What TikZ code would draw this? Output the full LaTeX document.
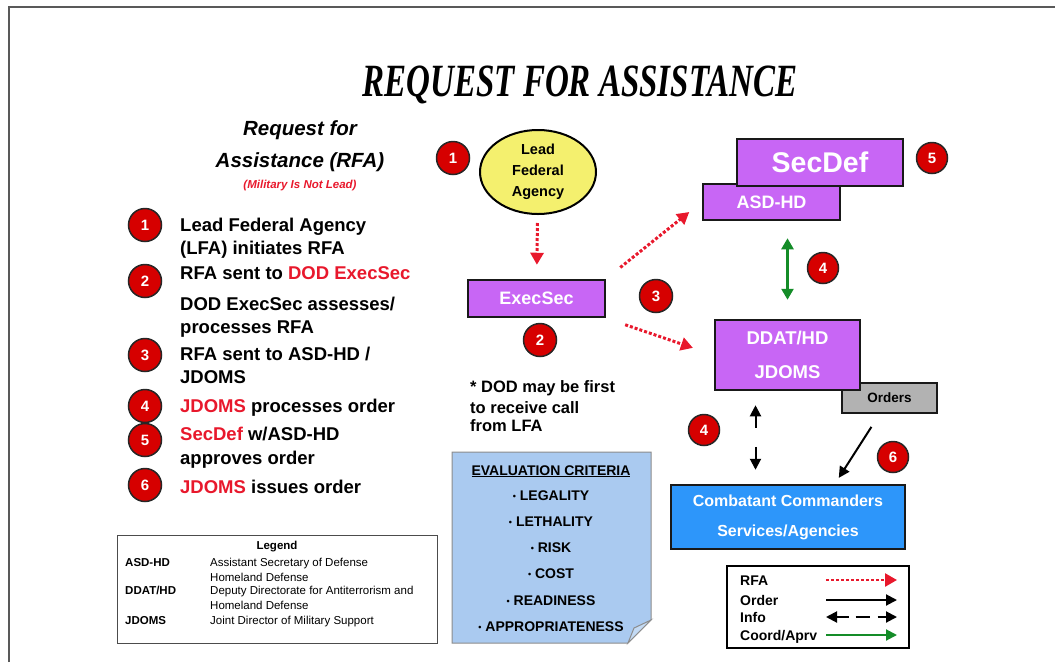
\documentclass[tikz,border=0pt]{standalone}
\usepackage{fontspec}
\usepackage{graphicx}
\setmainfont{Liberation Sans}
\newfontfamily\titlefont{Liberation Serif}
\usetikzlibrary{arrows.meta,shapes.geometric}

\definecolor{rfared}{RGB}{232,24,44}
\definecolor{dotred}{RGB}{214,0,0}
\definecolor{boxpurple}{RGB}{200,102,245}
\definecolor{lfayellow}{RGB}{244,240,110}
\definecolor{cmdblue}{RGB}{45,150,250}
\definecolor{noteblue}{RGB}{170,202,240}
\definecolor{ordergray}{RGB}{178,178,178}
\definecolor{coordgreen}{RGB}{20,140,40}
\newcommand{\fs}[2]{\fontsize{#1}{#2}\selectfont}
\newcommand{\crit}{\raisebox{1pt}{\fs{9}{10}\textbullet}\ }

\tikzset{
  numdot/.style={circle, fill=dotred, draw=black!85, line width=1.5pt, text=white,
    font=\bfseries\fs{15}{17}, minimum size=33pt, inner sep=0pt},
  listtxt/.style={anchor=base west, inner sep=0pt, font=\bfseries\fs{18.5}{20}},
  keytxt/.style={anchor=base west, inner sep=0pt, font=\fs{11.5}{13}},
  critxt/.style={anchor=base, inner sep=0pt, font=\bfseries\fs{14}{16}},
  agencybox/.style={draw=black!90, line width=2.5pt, fill=boxpurple, text=white,
    inner sep=0pt, align=center},
  arrowkey/.style={anchor=base west, inner sep=0pt, font=\bfseries\fs{14}{16}},
  rfa/.style={rfared, line width=3pt, dotted, -{Triangle[length=12pt,width=13pt]}},
  order/.style={black, line width=2pt, -{Triangle[length=11pt,width=11pt]}},
  info/.style={black, line width=2pt, dash pattern=on 12pt off 19pt,
    {Triangle[length=11pt,width=11pt]}-{Triangle[length=11pt,width=11pt]}},
  coord/.style={coordgreen, line width=2.5pt,
    {Triangle[length=11pt,width=12pt]}-{Triangle[length=11pt,width=12pt]}}
}

\begin{document}
\begin{tikzpicture}[x=1pt,y=-1pt]
  \useasboundingbox (0,0) rectangle (1055,662);
  %%%%% FRAME AND TITLE %%%%%
  \draw[black!65, line width=1.8pt] (9,662) -- (9,7) -- (1055,7);
  \node[font=\titlefont\bfseries\itshape\fs{33}{36}] (title) at (580,85)
    {\scalebox{1}[1.4]{REQUEST FOR ASSISTANCE}};

  %%%%% LEFT COLUMN %%%%%
  \node[font=\bfseries\itshape\fs{20.5}{22}] (head1) at (300,130) {Request for};
  \node[font=\bfseries\itshape\fs{20.5}{22}] (head2) at (300,162) {Assistance (RFA)};
  \node[font=\bfseries\itshape\fs{11.5}{13}, text=rfared] (head3) at (300,186) {(Military Is Not Lead)};

  \node[numdot] (s1) at (145,225) {1};
  \node[numdot] (s2) at (145,281) {2};
  \node[numdot] (s3) at (145,355) {3};
  \node[numdot] (s4) at (145,406) {4};
  \node[numdot] (s5) at (145,440) {5};
  \node[numdot] (s6) at (145,485) {6};

  \node[listtxt] (l1a) at (180,231.5) {Lead Federal Agency};
  \node[listtxt] (l1b) at (180,254.5) {(LFA) initiates RFA};
  \node[listtxt] (l2a) at (180,279.5) {RFA sent to \textcolor{rfared}{DOD ExecSec}};
  \node[listtxt] (l2b) at (180,310.5) {DOD ExecSec assesses/};
  \node[listtxt] (l2c) at (180,333.5) {processes RFA};
  \node[listtxt] (l3a) at (180,360.5) {RFA sent to ASD-HD /};
  \node[listtxt] (l3b) at (180,383.5) {JDOMS};
  \node[listtxt] (l4a) at (180,412.5) {\textcolor{rfared}{JDOMS} processes order};
  \node[listtxt] (l5a) at (180,440.5) {\textcolor{rfared}{SecDef} w/ASD-HD};
  \node[listtxt] (l5b) at (180,464.5) {approves order};
  \node[listtxt] (l6a) at (180,493.5) {\textcolor{rfared}{JDOMS} issues order};

  % legend of abbreviations
  \draw[black!70, line width=1pt] (117,535) rectangle (437,643);
  \node[font=\bfseries\fs{11.5}{13}] (legtitle) at (277,547) {Legend};
  \node[keytxt, font=\bfseries\fs{11.5}{13}] (k1) at (125,566) {ASD-HD};
  \node[keytxt] (d1a) at (210,566) {Assistant Secretary of Defense};
  \node[keytxt] (d1b) at (210,581) {Homeland Defense};
  \node[keytxt, font=\bfseries\fs{11.5}{13}] (k2) at (125,594) {DDAT/HD};
  \node[keytxt] (d2a) at (210,594) {Deputy Directorate for Antiterrorism and};
  \node[keytxt] (d2b) at (210,609) {Homeland Defense};
  \node[keytxt, font=\bfseries\fs{11.5}{13}] (k3) at (125,624) {JDOMS};
  \node[keytxt] (d3a) at (210,624) {Joint Director of Military Support};

  %%%%% MIDDLE %%%%%
  \node[numdot] (n1) at (453,158) {1};
  \node[ellipse, draw=black, line width=2pt, fill=lfayellow, minimum width=116pt,
    minimum height=84pt, inner sep=0pt, align=center, font=\bfseries\fs{14.5}{21}]
    (lfa) at (538,172) {Lead\\Federal\\Agency};
  \node[agencybox, minimum width=137pt, minimum height=37pt, font=\bfseries\fs{18}{20}]
    (execsec) at (536.5,298.5) {ExecSec};
  \node[numdot] (n2) at (540,340) {2};
  \node[numdot] (n3) at (656,296) {3};

  \node[anchor=base west, inner sep=0pt, font=\bfseries\fs{16.5}{18}] (note1) at (470,392) {* DOD may be first};
  \node[anchor=base west, inner sep=0pt, font=\bfseries\fs{16.5}{18}] (note2) at (470,413) {to receive call};
  \node[anchor=base west, inner sep=0pt, font=\bfseries\fs{16.5}{18}] (note3) at (470,431) {from LFA};

  % evaluation criteria note
  \draw[black!45, line width=1pt, fill=noteblue] (452,452) -- (651,452) -- (651,620)
    -- (628,643) -- (452,643) -- cycle;
  \draw[black!45, line width=1pt, fill=noteblue!70!white] (651,620) -- (628,643)
    -- (634,628) -- cycle;
  \node[critxt] (crit0) at (551,475) {\underline{EVALUATION CRITERIA}};
  \node[critxt] (crit1) at (551,500) {\crit LEGALITY};
  \node[critxt] (crit2) at (551,526) {\crit LETHALITY};
  \node[critxt] (crit3) at (551,552) {\crit RISK};
  \node[critxt] (crit4) at (551,578) {\crit COST};
  \node[critxt] (crit5) at (551,605) {\crit READINESS};
  \node[critxt] (crit6) at (551,631) {\crit APPROPRIATENESS};

  %%%%% RIGHT %%%%%
  \node[agencybox, minimum width=137pt, minimum height=36pt, font=\bfseries\fs{18}{20}]
    (asdhd) at (771.5,202) {ASD-HD};
  \node[agencybox, minimum width=166pt, minimum height=47pt, font=\bfseries\fs{28.5}{30}]
    (secdef) at (820,162.5) {SecDef};
  \node[numdot, minimum size=31pt] (n5) at (932,158) {5};
  \node[numdot, minimum size=31pt] (n4a) at (823,268) {4};

  \node[draw=black!90, line width=2.5pt, fill=ordergray, minimum width=95pt,
    minimum height=30pt, inner sep=0pt, font=\bfseries\fs{13.5}{15}] (orders) at (889.5,398) {Orders};
  \node[agencybox, minimum width=145pt, minimum height=70pt, font=\bfseries\fs{18.5}{34}]
    (jdoms) at (787.5,355) {DDAT/HD\\JDOMS};
  \node[numdot, minimum size=31pt] (n4b) at (704,430) {4};
  \node[numdot, minimum size=31pt] (n6) at (893,457) {6};
  \node[draw=black!90, line width=2.5pt, fill=cmdblue, text=white, minimum width=234pt,
    minimum height=64pt, inner sep=0pt, align=center, font=\bfseries\fs{16}{30}]
    (ccmd) at (788,517) {Combatant Commanders\\Services/Agencies};

  % connectors
  \draw[rfa, shorten <=8pt, shorten >=14pt] (lfa) -- (execsec);
  \draw[rfa, shorten <=18pt, shorten >=16pt] (execsec.north east) -- (asdhd.west);
  \draw[rfa, shorten <=20pt, shorten >=22pt] (execsec.south east) -- (jdoms.west);
  \draw[coord, shorten <=19pt, shorten >=17pt] (jdoms.north) -- (jdoms.north |- asdhd.south);
  \draw[info, shorten <=14pt, shorten >=14pt] ([xshift=-32pt]jdoms.south)
    -- ([xshift=-32pt]jdoms.south |- ccmd.north);
  \draw[order, shorten <=15pt, shorten >=7pt] ([xshift=-10pt]orders.south)
    -- ([xshift=47pt]ccmd.north);

  % key of arrows
  \draw[black, line width=1.5pt] (727,566) rectangle (909,648);
  \node[arrowkey] (krfa) at (740,585) {RFA};
  \node[arrowkey] (kord) at (740,605) {Order};
  \node[arrowkey] (kinfo) at (740,622) {Info};
  \node[arrowkey] (kcoord) at (740,640) {Coord/Aprv};
  \coordinate (krfaS) at (826,580);   \coordinate (krfaE) at (897,580);
  \coordinate (kordS) at (826,600);   \coordinate (kordE) at (897,600);
  \coordinate (kinfoS) at (826,617);  \coordinate (kinfoE) at (897,617);
  \coordinate (kcoordS) at (826,635); \coordinate (kcoordE) at (897,635);
  \draw[rfa, line width=2.5pt] (krfaS) -- (krfaE);
  \draw[order] (kordS) -- (kordE);
  \draw[info, dash pattern=on 12pt off 7pt on 14pt off 8pt] (kinfoS) -- (kinfoE);
  \draw[coordgreen, line width=2pt, -{Triangle[length=11pt,width=11pt]}] (kcoordS) -- (kcoordE);
\end{tikzpicture}
\end{document}
